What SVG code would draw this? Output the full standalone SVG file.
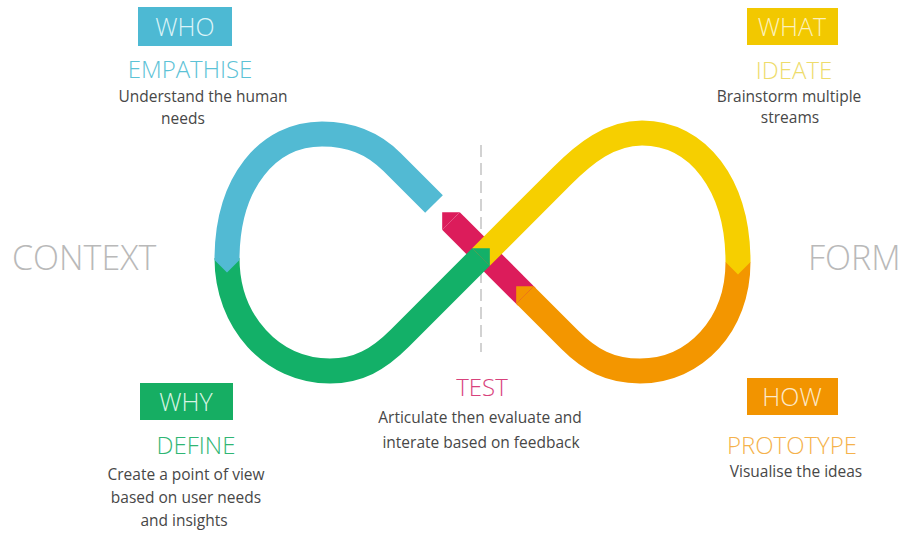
<svg xmlns="http://www.w3.org/2000/svg" width="901" height="538" viewBox="0 0 901 538">
  <style>
    .band { fill: none; stroke-width: 25; stroke-linecap: butt; stroke-linejoin: round; }
    .tag { font-family: "Open Sans", "Liberation Sans", sans-serif; font-weight: 300; font-size: 25px; text-anchor: middle; }
    .head { font-family: "Open Sans", "Liberation Sans", sans-serif; font-weight: 300; font-size: 24px; text-anchor: middle; }
    .desc { font-family: "Open Sans", "Liberation Sans", sans-serif; font-weight: 400; font-size: 15.5px; fill: #474747; text-anchor: middle; }
    .side { font-family: "Open Sans", "Liberation Sans", sans-serif; font-weight: 300; font-size: 34px; fill: #b9b9b9; }
  </style>
  <rect width="901" height="538" fill="#ffffff"/>

  <!-- divider between the two loops -->
  <line x1="481" y1="145" x2="481" y2="352" stroke="#b5b5b5" stroke-width="1.2" stroke-dasharray="12 6"/>

  <!-- infinity loop bands -->
  <g id="connectors">
    <!-- test: diagonal from the prototype end back towards the start -->
    <path class="band" stroke="#dc1c5b" d="M451,221 L527,297"/>
    <polygon fill="#dc1c5b" points="459.8,212.2 442.2,212.2 442.2,229.8"/>
    <!-- prototype -->
    <path class="band" stroke="#f39600" d="M738,262 C738,325 695,371 640,371 C610,371 590,360 570,340 L525,295"/>
    <!-- ideate -->
    <path class="band" stroke="#f6cf00" d="M481,257 L562,176 C585,153 610,133 642,133 C698,133 738,185 738,262"/>
    <!-- define -->
    <path class="band" stroke="#13b068" d="M227,258 C227,322 272,371 330,371 C358,371 378,360 400,338 L481,257"/>
    <polygon fill="#13b068" points="472.2,248.2 489.8,248.2 489.8,265.8"/>
    <!-- empathise -->
    <path class="band" stroke="#52bad3" d="M434,204 L392,162 C372,142 350,134 322,134 C268,134 227,182 227,260"/>
    <polygon fill="#52bad3" points="214.5,260 239.5,260 227,272.5"/>
    <!-- arrow points over the next band -->
    <polygon fill="#f6cf00" points="725.5,262 750.5,262 738,274.5"/>
    <polygon fill="#f39600" points="533.8,286.2 516.2,286.2 516.2,303.8"/>
  </g>

  <g id="context">
    <text class="side" x="12" y="270">CONTEXT</text>
  </g>
  <g id="form">
    <text class="side" x="808" y="270">FORM</text>
  </g>

  <g id="who">
    <rect x="138" y="7" width="94" height="39" fill="#4db9d3"/>
    <text class="tag" x="185" y="36" fill="#dcf4f8">WHO</text>
    <text class="head" x="190" y="78" fill="#5cc2d6">EMPATHISE</text>
    <text class="desc" x="203" y="102">Understand the human</text>
    <text class="desc" x="183" y="124">needs</text>
  </g>

  <g id="what">
    <rect x="747" y="8" width="91" height="37" fill="#f2c800"/>
    <text class="tag" x="792" y="36" fill="#fcf1bd">WHAT</text>
    <text class="head" x="794" y="79" fill="#eedc6c">IDEATE</text>
    <text class="desc" x="789" y="102">Brainstorm multiple</text>
    <text class="desc" x="790" y="123">streams</text>
  </g>

  <g id="why">
    <rect x="140" y="383" width="93" height="37" fill="#16ae63"/>
    <text class="tag" x="186" y="411" fill="#d8f5e4">WHY</text>
    <text class="head" x="196" y="454" fill="#2fb674">DEFINE</text>
    <text class="desc" x="186" y="480">Create a point of view</text>
    <text class="desc" x="186" y="503">based on user needs</text>
    <text class="desc" x="184" y="526">and insights</text>
  </g>

  <g id="test">
    <text class="head" x="482" y="396" fill="#d8427c">TEST</text>
    <text class="desc" x="480" y="423">Articulate then evaluate and</text>
    <text class="desc" x="481" y="448">interate based on feedback</text>
  </g>

  <g id="how">
    <rect x="747" y="378" width="91" height="37" fill="#f29400"/>
    <text class="tag" x="792" y="406" fill="#fde9c9">HOW</text>
    <text class="head" x="792" y="454" fill="#f5b24c">PROTOTYPE</text>
    <text class="desc" x="796" y="477">Visualise the ideas</text>
  </g>
</svg>
